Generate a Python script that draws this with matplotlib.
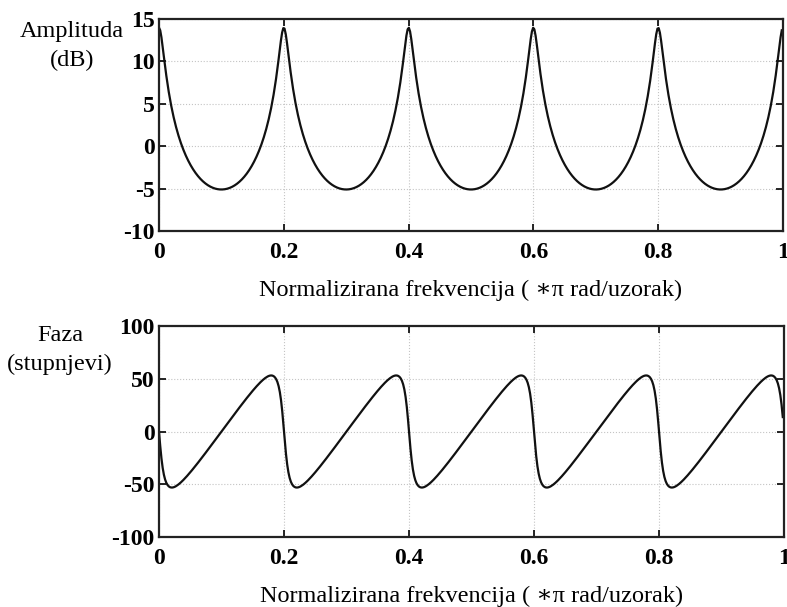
import numpy as np
import matplotlib
matplotlib.use("Agg")
import matplotlib.pyplot as plt

# Filter coefficients (comb filter) whose response is shown
b_coeffs = [1.0]
a_coeffs = [1.0, 0, 0, 0, 0, 0, 0, 0, 0, 0, -0.8]
n_points = 512

amp_yticks = [-10, -5, 0, 5, 10, 15]
phase_yticks = [-100, -50, 0, 50, 100]
xticks = [0, 0.2, 0.4, 0.6, 0.8, 1]
xtick_labels = ["0", "0.2", "0.4", "0.6", "0.8", "1"]
xlabel = "Normalizirana frekvencija ( \u2217\u03c0 rad/uzorak)"
amp_label = "Amplituda\n(dB)"
phase_label = "Faza\n(stupnjevi)"

w = np.arange(n_points) * np.pi / n_points
z = np.exp(-1j * w)
num = np.polyval(b_coeffs[::-1], z)
den = np.polyval(a_coeffs[::-1], z)
H = num / den
mag_db = 20 * np.log10(np.abs(H))
phase_deg = np.degrees(np.angle(H))
f = w / np.pi

plt.rcParams['font.family'] = ['Liberation Serif', 'DejaVu Serif']
plt.rcParams['axes.unicode_minus'] = False

fig = plt.figure(figsize=(7.87, 6.07), dpi=100)
W, Hh = 787, 607
ax1 = fig.add_axes([159 / W, 1 - 231 / Hh, (783 - 159) / W, (231 - 19) / Hh])
ax2 = fig.add_axes([159 / W, 1 - 537 / Hh, (784 - 159) / W, (537 - 326) / Hh])

for ax, y, yt in [(ax1, mag_db, amp_yticks), (ax2, phase_deg, phase_yticks)]:
    ax.plot(f, y, color='#111111', lw=1.6)
    ax.set_xlim(0, 1)
    ax.set_ylim(yt[0], yt[-1])
    ax.set_yticks(yt)
    ax.set_yticklabels([str(v) for v in yt])
    ax.set_xticks(xticks)
    ax.set_xticklabels(xtick_labels)
    ax.grid(True, linestyle=':', color='#c4c4c4', lw=0.8)
    ax.tick_params(direction='in', length=5, width=1.2, top=True, right=True,
                   labelsize=17, pad=3)
    ax.tick_params(axis='x', pad=8)
    for t in ax.get_xticklabels() + ax.get_yticklabels():
        t.set_fontweight('bold')
    for s in ax.spines.values():
        s.set_linewidth(1.6)
        s.set_color('#222222')
    ax.set_xlabel(xlabel, fontsize=17.5, labelpad=12)

fig.text(72 / W, 1 - 46 / Hh, amp_label, ha='center', va='center',
         fontsize=17.5, linespacing=1.5)
fig.text(60 / W, 1 - 350 / Hh, phase_label, ha='center', va='center',
         fontsize=17.5, linespacing=1.5)

fig.savefig("out.png", dpi=100)
